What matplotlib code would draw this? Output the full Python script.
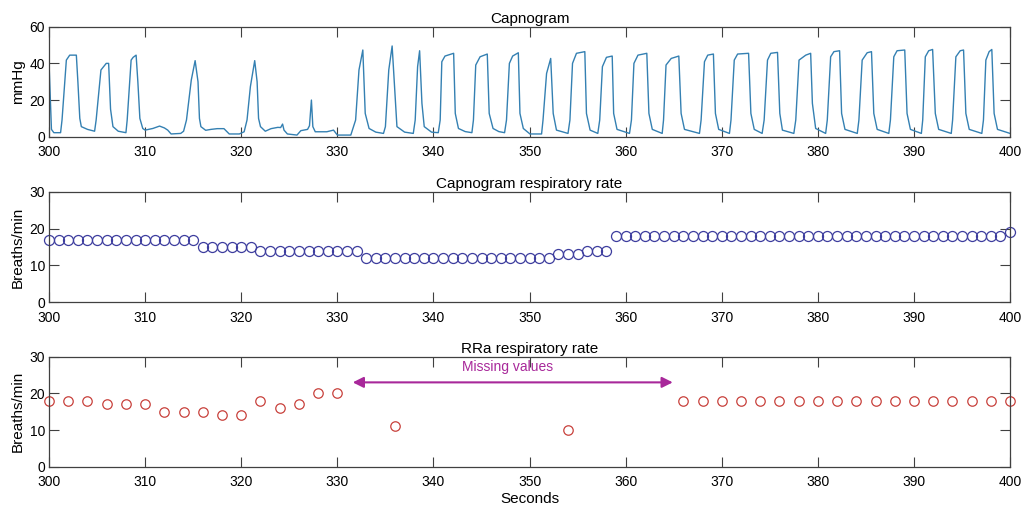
import matplotlib.pyplot as plt

plt.rcParams['font.family'] = ['Liberation Sans', 'DejaVu Sans']

# capnogram trace, vertices (seconds, mmHg)
capno_t = [300.0, 300.25, 300.5, 301.2,
           301.35, 301.8, 302.15, 302.84, 303.0, 303.2, 303.36, 304.0, 304.74,
           304.9, 305.4, 305.95, 306.2, 306.4, 306.65, 307.2, 308.0,
           308.13, 308.54, 308.75, 309.06, 309.24, 309.45, 309.75,
           310.0, 310.8, 311.5, 312.0, 312.35, 312.7, 313.7, 314.0,
           314.3, 314.8, 315.2, 315.5, 315.65, 315.8, 316.3, 316.85, 317.5, 318.2, 318.75, 319.8, 320.3,
           320.6, 320.95, 321.4, 321.65, 321.8, 322.0, 322.5, 323.1, 323.8, 324.1, 324.3, 324.45, 324.8,
           325.8, 326.2, 326.9, 327.1, 327.3, 327.45, 327.7, 328.9, 329.6, 330.0, 331.4,
           331.9, 332.25, 332.65, 332.9, 333.3, 334.0, 334.8,
           335.0, 335.35, 335.7, 335.95, 336.2, 337.0, 337.9,
           338.1, 338.35, 338.56, 338.8, 339.04, 339.8, 340.5,
           340.7, 340.87, 341.2, 342.1, 342.27, 342.6, 343.3, 344.0,
           344.16, 344.4, 344.85, 345.6, 345.8, 346.2, 346.8, 347.4,
           347.6, 347.9, 348.24, 348.83, 349.0, 349.35, 350.04, 351.25,
           351.4, 351.77, 352.2, 352.46, 352.8, 354.0,
           354.2, 354.47, 354.88, 355.75, 355.92, 356.3, 357.1,
           357.3, 357.58, 358.0, 358.6, 358.75, 359.1, 360.4,
           360.6, 360.86, 361.28, 362.2, 362.42, 362.77, 363.8,
           363.94, 364.2, 364.74, 365.53, 365.77, 366.12, 367.68,
           367.85, 368.2, 368.54, 369.13, 369.34, 369.68, 370.8,
           370.96, 371.3, 371.65, 372.79, 373.03, 373.38, 374.2,
           374.41, 374.76, 375.1, 375.8, 376.04, 376.31, 377.5,
           377.7, 378.04, 378.74, 379.25, 379.43, 379.77, 380.81,
           380.98, 381.33, 381.67, 382.26, 382.47, 382.82, 384.1,
           384.27, 384.61, 385.13, 385.58, 385.82, 386.17, 387.38,
           387.55, 387.9, 388.24, 389.04, 389.28, 389.63, 390.77,
           390.91, 391.18, 391.53, 391.94, 392.22, 392.57, 393.88,
           394.02, 394.36, 394.81, 395.16, 395.4, 395.75, 397.06,
           397.23, 397.48, 397.82, 398.1, 398.34, 398.69, 400.0]
capno_mmhg = [40.0, 4.0, 2.2, 2.2,
              9.1, 41.8, 44.5, 44.5, 30.0, 10.0, 5.5, 4.0, 3.0,
              9.1, 36.4, 40.0, 40.0, 15.0, 5.5, 3.0, 2.2,
              9.1, 41.8, 43.3, 44.5, 30.0, 10.0, 4.5,
              3.6, 4.5, 5.8, 4.8, 3.6, 1.5, 1.8, 3.0,
              9.1, 30.9, 41.5, 30.0, 10.0, 5.5, 3.5, 4.0, 4.4, 4.4, 1.5, 1.5, 2.7,
              9.1, 27.3, 41.5, 30.0, 10.0, 5.5, 3.0, 4.4, 5.1, 5.0, 6.9, 3.6, 1.5,
              0.9, 3.3, 4.0, 6.0, 20.0, 5.5, 2.7, 2.7, 3.6, 0.9, 0.9,
              9.1, 36.4, 47.3, 12.7, 4.5, 2.5, 1.8,
              5.5, 36.4, 49.5, 27.3, 5.5, 2.5, 1.8,
              9.1, 38.2, 46.9, 18.2, 5.5, 2.5, 2.2,
              9.1, 40.9, 44.0, 45.5, 12.7, 4.5, 2.8, 2.2,
              9.1, 39.1, 43.6, 45.1, 12.7, 4.5, 2.8, 2.2,
              9.1, 40.0, 44.0, 45.8, 12.7, 4.5, 1.5, 1.5,
              9.1, 34.5, 42.7, 12.7, 3.6, 1.8,
              9.1, 40.0, 45.5, 46.4, 12.7, 3.6, 1.8,
              9.1, 38.2, 43.3, 44.0, 12.7, 4.0, 1.8,
              9.1, 40.0, 44.5, 45.5, 12.7, 4.0, 1.8,
              9.1, 39.1, 42.7, 44.0, 12.7, 4.0, 1.8,
              9.1, 40.9, 44.5, 45.1, 12.7, 4.0, 1.8,
              9.1, 41.8, 45.1, 45.5, 12.7, 4.0, 1.8,
              9.1, 41.8, 45.5, 46.0, 12.7, 3.6, 1.8,
              9.1, 41.8, 44.5, 45.5, 18.2, 4.5, 1.8,
              9.1, 43.6, 46.4, 46.9, 12.7, 4.0, 1.8,
              9.1, 41.8, 45.8, 46.4, 12.7, 4.0, 1.8,
              9.1, 43.6, 46.9, 47.3, 12.7, 4.0, 1.8,
              9.1, 43.6, 46.9, 47.6, 12.7, 4.0, 1.8,
              9.1, 43.6, 46.9, 47.3, 12.7, 4.0, 1.8,
              9.1, 41.8, 46.4, 47.6, 12.7, 4.0, 1.8]

# capnogram respiratory rate, one value per second
rr_capno_t = list(range(300, 401))
rr_capno = [17] * 16 + [15] * 6 + [14] * 11 + [12] * 20 + [13] * 3 + [14] * 3 + [18] * 41 + [19]

# RRa respiratory rate
rra_t = [300, 302, 304, 306, 308, 310, 312, 314, 316, 318, 320, 322, 324, 326, 328, 330,
         336, 354,
         366, 368, 370, 372, 374, 376, 378, 380, 382, 384, 386, 388, 390, 392, 394, 396, 398, 400]
rra = [18, 18, 18, 17, 17, 17, 15, 15, 15, 14, 14, 18, 16, 17, 20, 20,
       11, 10,
       18, 18, 18, 18, 18, 18, 18, 18, 18, 18, 18, 18, 18, 18, 18, 18, 18, 18]

missing_from, missing_to, missing_y = 331.6, 364.9, 23
xticks = [300, 310, 320, 330, 340, 350, 360, 370, 380, 390, 400]

tick_fs = 10
fs = 11
fig = plt.figure(figsize=(10.24, 5.09), dpi=100)
ax1 = fig.add_axes([0.0479, 0.7314, 0.9385, 0.2161])
ax2 = fig.add_axes([0.0479, 0.4061, 0.9385, 0.2173])
ax3 = fig.add_axes([0.0479, 0.0831, 0.9385, 0.2161])

ax1.plot(capno_t, capno_mmhg, color='#3480B2', lw=1.0)
ax2.plot(rr_capno_t, rr_capno, 'o', mfc='none', mec='#3D3D9E', ms=7.2, mew=0.9, clip_on=False)
ax3.plot(rra_t, rra, 'o', mfc='none', mec='#C8413C', ms=6.8, mew=0.9, clip_on=False)

ax3.annotate('', xy=(missing_from, missing_y), xytext=(missing_to, missing_y),
             arrowprops=dict(arrowstyle='<|-|>', color='#A8289A', lw=1.5, mutation_scale=16,
                             shrinkA=0, shrinkB=0))
ax3.text((missing_from + missing_to) / 2 - 0.5, 27.2, 'Missing values', color='#A8289A',
         fontsize=10, ha='center', va='center')

ax1.set_ylim(0, 60)
ax1.set_yticks([0, 20, 40, 60])
ax1.set_ylabel('mmHg', fontsize=fs, labelpad=3)
ax1.set_title('Capnogram', fontsize=fs, pad=3)

for ax in (ax2, ax3):
    ax.set_ylim(0, 30)
    ax.set_yticks([0, 10, 20, 30])
    ax.set_ylabel('Breaths/min', fontsize=fs, labelpad=3)
ax2.set_title('Capnogram respiratory rate', fontsize=fs, pad=3)
ax3.set_title('RRa respiratory rate', fontsize=fs, pad=3)
ax3.set_xlabel('Seconds', fontsize=fs, labelpad=2)

for ax in (ax1, ax2, ax3):
    ax.set_xlim(300, 400)
    ax.set_xticks(xticks)
    ax.tick_params(direction='in', top=True, right=True, length=7, width=0.8,
                   color='#404040', labelsize=tick_fs, pad=3)
    ax.tick_params(axis='x', pad=6)
    for s in ax.spines.values():
        s.set_color('#404040')
        s.set_linewidth(0.9)

fig.savefig('out.png', dpi=100)
